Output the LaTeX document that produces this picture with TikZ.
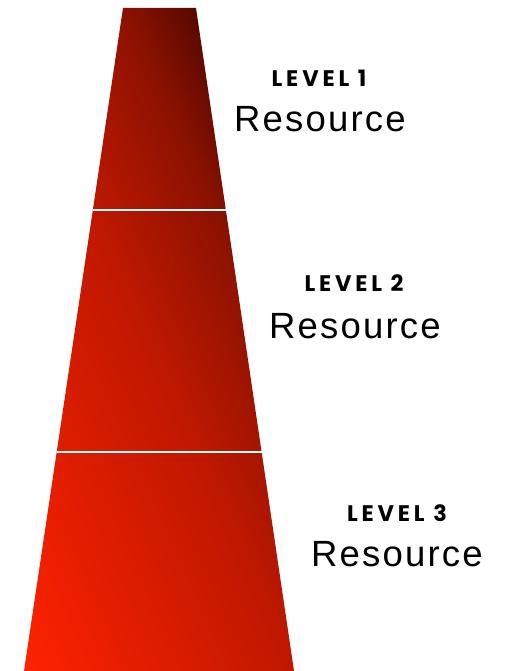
\documentclass[tikz,border=0pt]{standalone}
\usetikzlibrary{calc}
\usepackage{fontspec}
\setmainfont{Liberation Sans}
\newfontfamily\lvlfont[LetterSpace=17]{Poppins}
\newfontfamily\resfont[LetterSpace=6]{Liberation Sans}
\definecolor{redA}{HTML}{FF2200}
\definecolor{redB}{HTML}{BE1800}
\definecolor{redC}{HTML}{8C1200}
\definecolor{redD}{HTML}{560800}
\pgfdeclarehorizontalshading{redgrad}{100bp}{color(0bp)=(redA); color(25bp)=(redA); color(54.3bp)=(redB); color(67.2bp)=(redC); color(75bp)=(redD); color(100bp)=(redD)}
\tikzset{
  lvl/.style={anchor=base, inner sep=0pt, font=\lvlfont\bfseries\fontsize{22.5}{22.5}\selectfont, text=black},
  res/.style={anchor=base, inner sep=0pt, font=\resfont\fontsize{36.5}{36.5}\selectfont, text=black},
  divider/.style={draw=white, line width=2.6pt}
}
\begin{document}
\begin{tikzpicture}[x=1pt,y=1pt]
\useasboundingbox (0,0) rectangle (504,671);
\coordinate (BL) at (24,0);
\coordinate (BR) at (294,0);
\coordinate (TR) at (196,663);
\coordinate (TL) at (123,663);
\begin{scope}
  \clip (BL) -- (BR) -- (TR) -- (TL) -- cycle;
  \begin{scope}[transform canvas={rotate around={24:(24,0)}}]
    \shade[shading=redgrad] (24,-400) rectangle (451,900);
  \end{scope}
\end{scope}
% dividers
\coordinate (d1l) at ($(BL)!{(671-210)/663}!(TL)$);
\coordinate (d1r) at ($(BR)!{(671-210)/663}!(TR)$);
\coordinate (d2l) at ($(BL)!{(671-452)/663}!(TL)$);
\coordinate (d2r) at ($(BR)!{(671-452)/663}!(TR)$);
\draw[divider] (d1l) -- (d1r);
\draw[divider] (d2l) -- (d2r);
% labels
\node[lvl] (l1) at (319,{671-87}) {LEVEL 1};
\node[res] (r1) at (320,{671-132}) {Resource};
\node[lvl] (l2) at (354,{671-292}) {LEVEL 2};
\node[res] (r2) at (355,{671-339}) {Resource};
\node[lvl] (l3) at (397,{671-522}) {LEVEL 3};
\node[res] (r3) at (397,{671-567}) {Resource};
\end{tikzpicture}
\end{document}
